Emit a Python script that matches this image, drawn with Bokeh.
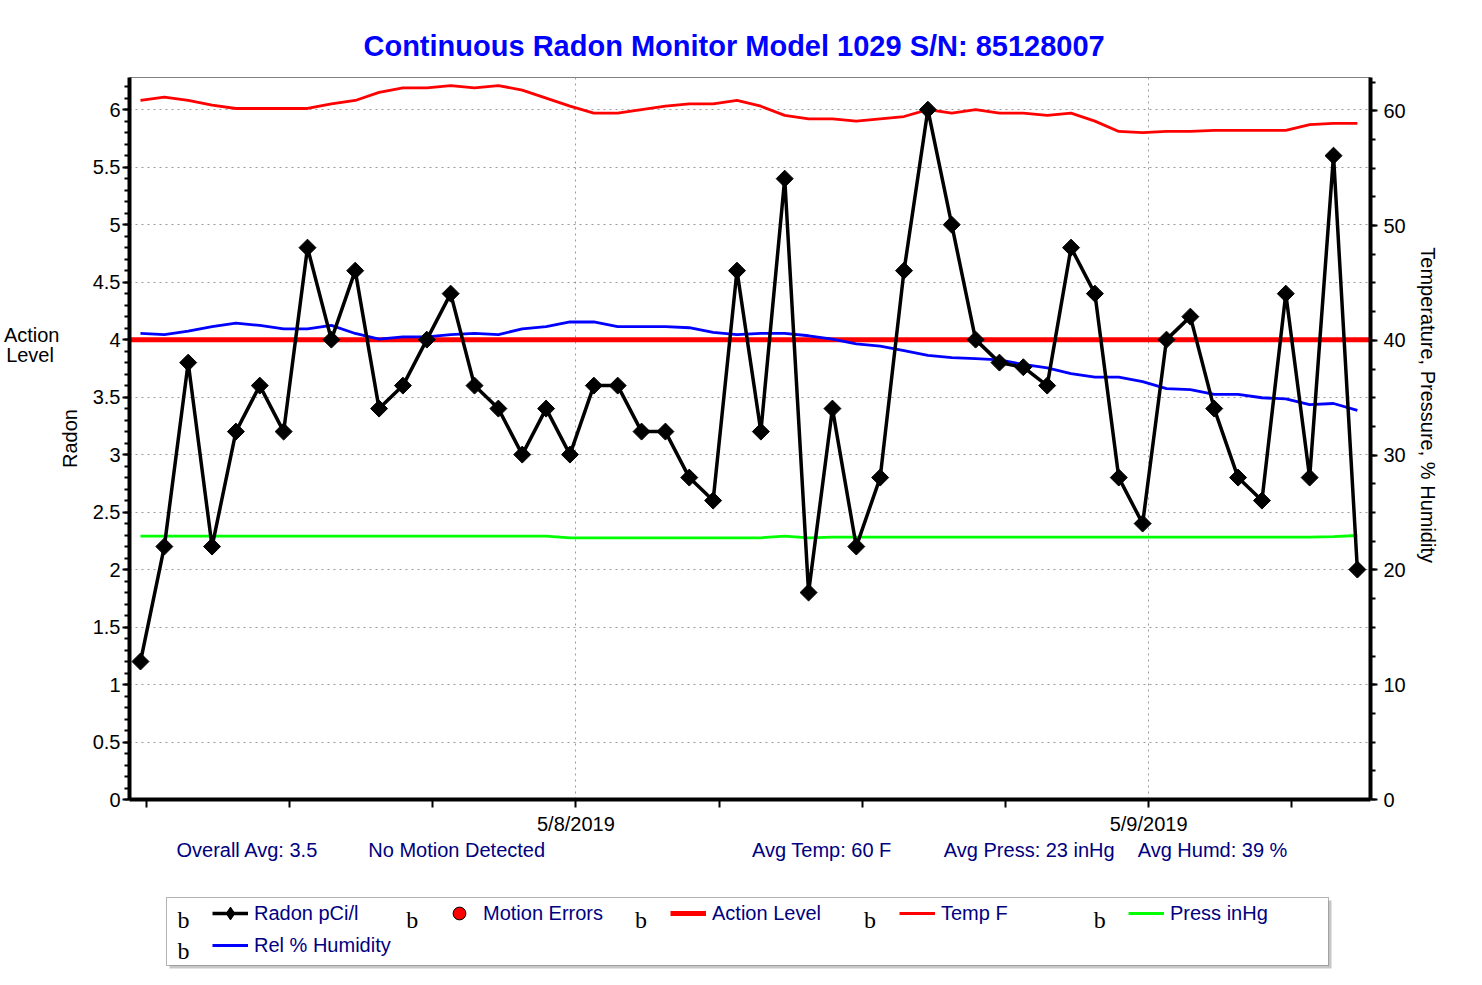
import math
from bokeh.plotting import figure
from bokeh.layouts import column
from bokeh.models import (Range1d, LinearAxis, SingleIntervalTicker, FixedTicker,
                          CustomJSTickFormatter, Label, Legend, LegendItem,
                          BoxAnnotation, Span)
from bokeh.embed import file_html
from bokeh.resources import INLINE

# ---------------- data ----------------
# hours since 5/7/2019 00:00, one reading per hour
hours = [5.75 + i for i in range(52)]

radon = [1.2, 2.2, 3.8, 2.2, 3.2, 3.6, 3.2, 4.8, 4.0, 4.6,
         3.4, 3.6, 4.0, 4.4, 3.6, 3.4, 3.0, 3.4, 3.0, 3.6,
         3.6, 3.2, 3.2, 2.8, 2.6, 4.6, 3.2, 5.4, 1.8, 3.4,
         2.2, 2.8, 4.6, 6.0, 5.0, 4.0, 3.8, 3.76, 3.6, 4.8,
         4.4, 2.8, 2.4, 4.0, 4.2, 3.4, 2.8, 2.6, 4.4, 2.8,
         5.6, 2.0]

temp_f = [60.9, 61.2, 60.9, 60.5, 60.2, 60.2, 60.2, 60.2, 60.6, 60.9,
          61.6, 62.0, 62.0, 62.2, 62.0, 62.2, 61.8, 61.1, 60.4, 59.8,
          59.8, 60.1, 60.4, 60.6, 60.6, 60.9, 60.4, 59.6, 59.3, 59.3,
          59.1, 59.3, 59.5, 60.1, 59.8, 60.1, 59.8, 59.8, 59.6, 59.8,
          59.1, 58.2, 58.1, 58.2, 58.2, 58.3, 58.3, 58.3, 58.3, 58.8,
          58.9, 58.9]

humidity = [40.6, 40.5, 40.8, 41.2, 41.5, 41.3, 41.0, 41.0, 41.3, 40.6,
            40.1, 40.3, 40.3, 40.5, 40.6, 40.5, 41.0, 41.2, 41.6, 41.6,
            41.2, 41.2, 41.2, 41.1, 40.7, 40.5, 40.6, 40.6, 40.4, 40.1,
            39.7, 39.5, 39.1, 38.7, 38.5, 38.4, 38.3, 37.9, 37.6, 37.1,
            36.8, 36.8, 36.4, 35.8, 35.7, 35.3, 35.3, 35.0, 34.9, 34.4,
            34.5, 33.9]

press_inhg = [22.95, 22.95, 22.95, 22.95, 22.95, 22.95, 22.95, 22.95, 22.95, 22.95,
              22.95, 22.95, 22.95, 22.95, 22.95, 22.95, 22.95, 22.95, 22.8, 22.8,
              22.8, 22.8, 22.8, 22.8, 22.8, 22.8, 22.8, 22.95, 22.8, 22.85,
              22.85, 22.85, 22.85, 22.85, 22.85, 22.85, 22.85, 22.85, 22.85, 22.85,
              22.85, 22.85, 22.85, 22.85, 22.85, 22.85, 22.85, 22.85, 22.85, 22.85,
              22.9, 23.0]

action_level = 4.0

x_ticks = [6, 12, 18, 24, 30, 36, 42, 48, 54]
x_tick_labels = {6: "", 12: "", 18: "", 24: "5/8/2019", 30: "", 36: "",
                 42: "", 48: "5/9/2019", 54: ""}

title_text = "Continuous Radon Monitor Model 1029 S/N: 85128007"
left_label = "Radon"
right_label = "Temperature, Pressure, % Humidity" + "\u00a0" * 12
action_text = "Action\nLevel\u00a0"
stats_texts = ["Overall Avg: 3.5", "No Motion Detected", "Avg Temp: 60 F",
               "Avg Press: 23 inHg", "Avg Humd: 39 %"]
legend_labels = ["Radon pCi/l", "Motion Errors", "Action Level", "Temp F",
                 "Press inHg", "Rel % Humidity"]

FONT = "Liberation Sans"
NAVY = "#000080"
W = 1470
H_MAIN = 838
H_BOT = 985 - H_MAIN
FL, FR = 128, 1370   # frame left / right, page px

# ---------------- main figure ----------------
p = figure(width=W, height=H_MAIN, output_backend="svg", toolbar_location=None,
           x_range=Range1d(5.29, 57.3), y_range=Range1d(0, 6.28),
           min_border_left=FL, min_border_right=W - FR,
           min_border_top=77, min_border_bottom=H_MAIN - 799)
p.extra_y_ranges = {"right": Range1d(0, 62.9)}
p.outline_line_color = "#808080"
p.outline_line_width = 1

p.title.text = title_text
p.title.align = "left"
p.title.offset = 362 - FL
p.title.standoff = 31
p.title.text_font = FONT
p.title.text_font_size = "29px"
p.title.text_font_style = "bold"
p.title.text_color = "#0000FF"

def style_axis(ax):
    ax.axis_line_width = 4
    ax.axis_line_color = "black"
    ax.major_tick_line_width = 2
    ax.major_tick_line_color = "black"
    ax.minor_tick_line_width = 2
    ax.minor_tick_line_color = "black"
    ax.major_tick_in = 0
    ax.major_tick_out = 7
    ax.minor_tick_in = 0
    ax.minor_tick_out = 5
    ax.major_label_text_font = FONT
    ax.major_label_text_font_size = "20px"
    ax.major_label_text_color = "black"
    ax.axis_label_text_font = FONT
    ax.axis_label_text_font_size = "20px"
    ax.axis_label_text_font_style = "normal"
    ax.axis_label_text_color = "black"

# left axis
ly = p.yaxis[0]
style_axis(ly)
ly.ticker = SingleIntervalTicker(interval=0.5, num_minor_ticks=5)
ly.formatter = CustomJSTickFormatter(code="return String(Math.round(tick*10)/10)")
ly.major_label_standoff = 2
ly.axis_label = left_label
ly.axis_label_standoff = 9

# "Action Level" marker text as an outer, line-less axis
ay = LinearAxis(ticker=FixedTicker(ticks=[3.95]), major_label_overrides={3.95: action_text})
ay.axis_line_color = None
ay.major_tick_line_color = None
ay.minor_tick_line_color = None
ay.major_tick_out = 0
ay.major_tick_in = 0
ay.minor_tick_out = 0
ay.minor_tick_in = 0
ay.major_label_standoff = -4
ay.axis_label_standoff = 0
ay.major_label_text_font = FONT
ay.major_label_text_font_size = "20px"
ay.major_label_text_line_height = 0.9
ay.major_label_text_color = "black"
p.add_layout(ay, "left")

# right axis
ry = LinearAxis(y_range_name="right",
                ticker=SingleIntervalTicker(interval=10, num_minor_ticks=4))
style_axis(ry)
ry.major_label_standoff = 6
ry.axis_label = right_label
ry.axis_label_standoff = 8
p.add_layout(ry, "right")

# bottom axis
bx = p.xaxis[0]
style_axis(bx)
bx.ticker = FixedTicker(ticks=x_ticks)
bx.major_label_overrides = x_tick_labels
bx.major_tick_out = 8
bx.minor_tick_line_color = None
bx.major_label_standoff = 5

# grids
p.ygrid.ticker = SingleIntervalTicker(interval=0.5)
p.ygrid.grid_line_color = "#9a9a9a"
p.ygrid.grid_line_dash = "2 4"
p.ygrid.grid_line_width = 1
p.xgrid.ticker = FixedTicker(ticks=[24, 48])
p.xgrid.grid_line_color = "#9a9a9a"
p.xgrid.grid_line_dash = "2 4"
p.xgrid.grid_line_width = 1

# action level
p.add_layout(Span(location=action_level, dimension="width", line_color="#FF0000",
                  line_width=5, level="underlay"))

# series
p.line(hours, temp_f, y_range_name="right", line_color="#FF0000", line_width=2.8)
p.line(hours, press_inhg, y_range_name="right", line_color="#00FF00", line_width=2.8)
p.line(hours, humidity, y_range_name="right", line_color="#0000FF", line_width=2.8)
p.line(hours, radon, line_color="black", line_width=3.5)
p.scatter(hours, radon, marker="square", angle=math.pi / 4, size=12,
          fill_color="black", line_color="black")

# ---------------- bottom strip: statistics + legend ----------------
# this strip's frame is aligned with the main frame; coordinates are page pixels
q = figure(width=W, height=H_BOT, output_backend="svg", toolbar_location=None,
           x_range=Range1d(FL, FR), y_range=Range1d(985, H_MAIN),
           min_border=0, x_axis_type=None, y_axis_type=None)
q.outline_line_color = None
q.xgrid.visible = False
q.ygrid.visible = False

for t, xx in zip(stats_texts, [175, 367, 751, 943, 1137]):
    q.add_layout(Label(x=xx, y=849, text=t, text_font=FONT, text_font_size="20px",
                       text_color=NAVY, text_baseline="middle"))

q.add_layout(BoxAnnotation(left=168, right=1331, top=900, bottom=968,
                           fill_color="#c8c8c8", fill_alpha=1, line_color=None))
q.add_layout(BoxAnnotation(left=165, right=1328, top=897, bottom=965,
                           fill_color="white", fill_alpha=1, line_color="black",
                           line_width=1))

# legend proxies (their data lie outside this strip's ranges, so only the legend shows them)
g_rl = q.line(hours, radon, line_color="black", line_width=3.5)
g_rm = q.scatter(hours, radon, marker="diamond", size=12,
                 fill_color="black", line_color="black")
g_mo = q.scatter(hours, radon, marker="circle", size=15, fill_color="#FF0000",
                 line_color="black")
g_ac = q.line(hours, radon, line_color="#FF0000", line_width=5)
g_te = q.line(hours, temp_f, line_color="#FF0000", line_width=2.8)
g_pr = q.line(hours, press_inhg, line_color="#00FF00", line_width=2.8)
g_hu = q.line(hours, humidity, line_color="#0000FF", line_width=2.8)

legend = Legend(items=[
    LegendItem(label=legend_labels[0], renderers=[g_rl, g_rm]),
    LegendItem(label=legend_labels[1], renderers=[g_mo]),
    LegendItem(label=legend_labels[2], renderers=[g_ac]),
    LegendItem(label=legend_labels[3], renderers=[g_te]),
    LegendItem(label=legend_labels[4], renderers=[g_pr]),
    LegendItem(label=legend_labels[5], renderers=[g_hu]),
], location=(211 - FL, 24), orientation="horizontal", ncols=5)
legend.padding = 8
legend.spacing = 0
legend.glyph_width = 36
legend.glyph_height = 32
legend.label_standoff = 6
legend.label_width = 187
legend.label_text_font = FONT
legend.label_text_font_size = "20px"
legend.label_text_color = NAVY
legend.border_line_color = None
legend.background_fill_alpha = 0
legend.margin = 0
q.add_layout(legend)

for bx_, by_ in [(176, 919), (405, 919), (634, 919), (863, 919), (1093, 919), (176, 950)]:
    q.add_layout(Label(x=bx_, y=by_, text="b", text_font="Liberation Serif",
                       text_font_size="24px", text_color="black", text_baseline="middle"))

open("out.html", "w").write(file_html(column(p, q, spacing=0), INLINE))
